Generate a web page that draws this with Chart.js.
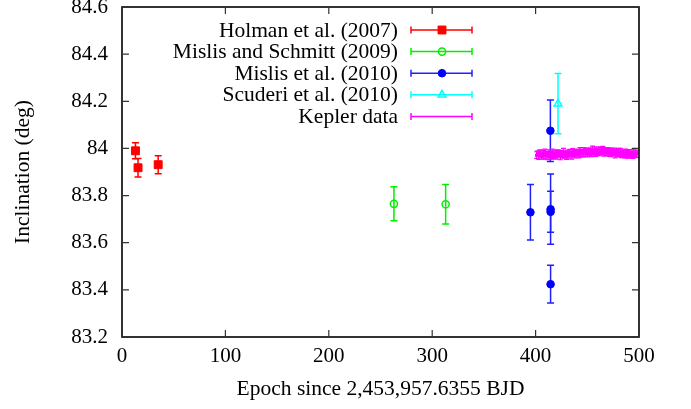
<!DOCTYPE html>
<html>
<head>
<meta charset="utf-8">
<script src="https://cdn.jsdelivr.net/npm/chart.js@4.4.0/dist/chart.umd.min.js"></script>
<style>
  html, body { margin: 0; padding: 0; background: #fff; }
  #wrap { width: 691px; height: 409px; }
</style>
</head>
<body>
<div id="wrap"><canvas id="inclChart"></canvas></div>
<script>
// series names (legend order)
const seriesNames = ['Holman et al. (2007)', 'Mislis and Schmitt (2009)', 'Mislis et al. (2010)', 'Scuderi et al. (2010)', 'Kepler data'];

// Holman et al. (2007)
const holmanEpoch = [13, 15.5, 35];
const holmanIncl = [83.99, 83.918, 83.931];
const holmanErr = [0.034, 0.039, 0.038];

// Mislis and Schmitt (2009)
const mislisSEpoch = [263, 313];
const mislisSIncl = [83.765, 83.763];
const mislisSErr = [0.072, 0.084];

// Mislis et al. (2010)
const mislisEpoch = [395, 414.5, 414.5, 414.5, 414.3];
const mislisIncl = [83.729, 83.742, 83.731, 83.424, 84.075];
const mislisErr = [0.118, 0.149, 0.087, 0.08, 0.13];

// Scuderi et al. (2010)
const scuderiEpoch = [421.7];
const scuderiIncl = [84.19];
const scuderiErr = [0.128];

// Kepler data
const keplerEpoch = [401, 402, 403, 404, 405, 406, 407, 408, 409, 410,
  411, 412, 413, 414, 415, 416, 417, 418, 419, 420,
  421, 422, 423, 424, 425, 426, 427, 428, 429, 430,
  431, 432, 433, 434, 435, 436, 437, 438, 439, 440,
  441, 442, 443, 444, 445, 446, 447, 448, 449, 450,
  451, 452, 453, 454, 455, 456, 457, 458, 459, 460,
  461, 462, 463, 464, 465, 466, 467, 468, 469, 470,
  471, 472, 473, 474, 475, 476, 477, 478, 479, 480,
  481, 482, 483, 484, 485, 486, 487, 488, 489, 490,
  491, 492, 493, 494, 495, 496, 497, 498];
const keplerIncl = [83.972, 83.978, 83.969, 83.981, 83.975, 83.966, 83.979, 83.973, 83.984, 83.970,
  83.976, 83.968, 83.980, 83.974, 83.971, 83.983, 83.967, 83.977, 83.972, 83.979,
  83.970, 83.981, 83.975, 83.968, 83.978, 83.973, 83.985, 83.971, 83.976, 83.969,
  83.980, 83.974, 83.982, 83.977, 83.971, 83.986, 83.979, 83.975, 83.983, 83.978,
  83.984, 83.976, 83.989, 83.980, 83.985, 83.978, 83.991, 83.982, 83.987, 83.979,
  83.986, 83.983, 83.990, 83.981, 83.992, 83.984, 83.992, 83.980, 83.987, 83.985,
  83.993, 83.982, 83.989, 83.986, 83.995, 83.983, 83.990, 83.987, 83.984, 83.991,
  83.982, 83.988, 83.979, 83.985, 83.981, 83.987, 83.976, 83.983, 83.980, 83.986,
  83.977, 83.984, 83.975, 83.981, 83.978, 83.972, 83.983, 83.976, 83.980, 83.974,
  83.981, 83.975, 83.979, 83.971, 83.982, 83.976, 83.973, 83.978];
const keplerErr = [0.014, 0.012, 0.016, 0.013, 0.015, 0.012, 0.014, 0.017, 0.013, 0.015,
  0.012, 0.016, 0.014, 0.013, 0.015, 0.014, 0.012, 0.016, 0.013, 0.014,
  0.015, 0.013, 0.012, 0.016, 0.014, 0.013, 0.015, 0.012, 0.014, 0.016,
  0.013, 0.015, 0.014, 0.012, 0.016, 0.013, 0.014, 0.015, 0.012, 0.014,
  0.013, 0.016, 0.014, 0.015, 0.012, 0.014, 0.013, 0.016, 0.014, 0.015,
  0.013, 0.014, 0.012, 0.016, 0.018, 0.013, 0.015, 0.014, 0.012, 0.016,
  0.014, 0.013, 0.015, 0.012, 0.014, 0.016, 0.013, 0.015, 0.014, 0.012,
  0.016, 0.013, 0.014, 0.015, 0.012, 0.014, 0.016, 0.013, 0.015, 0.014,
  0.012, 0.016, 0.014, 0.013, 0.015, 0.012, 0.014, 0.016, 0.013, 0.015,
  0.014, 0.012, 0.016, 0.013, 0.015, 0.014, 0.012, 0.015];

// axis ticks
const xTicks = [0, 100, 200, 300, 400, 500];
const yTicks = [83.2, 83.4, 83.6, 83.8, 84, 84.2, 84.4, 84.6];
const yTickLabels = ['83.2', '83.4', '83.6', '83.8', '84', '84.2', '84.4', '84.6'];

const FONT = 'Liberation Serif';

function pts(xs, ys, errs) {
    return xs.map((x, i) => ({ x: x, y: ys[i], err: errs[i] }));
}

// error bars drawn before each dataset so markers sit on top
const errorBars = {
    id: 'errorBars',
    beforeDatasetDraw(chart, args) {
        const ds = chart.data.datasets[args.index];
        const yScale = chart.scales.y;
        const ctx = chart.ctx;
        const cap = ds.capWidth || 3.5;
        ctx.save();
        ctx.strokeStyle = ds.barColor;
        ctx.lineWidth = ds.barWidth || 1.5;
        args.meta.data.forEach((el, i) => {
            const d = ds.data[i];
            const yTop = yScale.getPixelForValue(d.y + d.err);
            const yBot = yScale.getPixelForValue(d.y - d.err);
            ctx.beginPath();
            ctx.moveTo(el.x, yTop);
            ctx.lineTo(el.x, yBot);
            ctx.moveTo(el.x - cap, yTop);
            ctx.lineTo(el.x + cap, yTop);
            ctx.moveTo(el.x - cap, yBot);
            ctx.lineTo(el.x + cap, yBot);
            ctx.stroke();
        });
        ctx.restore();
    }
};

// gnuplot-like frame with inward ticks on all four sides
const frame = {
    id: 'frame',
    afterDatasetsDraw(chart) {
        const { ctx, chartArea: a, scales } = chart;
        ctx.save();
        ctx.strokeStyle = '#000';
        ctx.lineWidth = 1.6;
        ctx.strokeRect(a.left, a.top, a.right - a.left, a.bottom - a.top);
        ctx.strokeStyle = '#333';
        ctx.lineWidth = 1.2;
        ctx.beginPath();
        xTicks.forEach(v => {
            const px = scales.x.getPixelForValue(v);
            ctx.moveTo(px, a.bottom); ctx.lineTo(px, a.bottom - 7);
            ctx.moveTo(px, a.top); ctx.lineTo(px, a.top + 7);
        });
        yTicks.forEach(v => {
            const py = scales.y.getPixelForValue(v);
            ctx.moveTo(a.left, py); ctx.lineTo(a.left + 7, py);
            ctx.moveTo(a.right, py); ctx.lineTo(a.right - 7, py);
        });
        ctx.stroke();
        ctx.restore();
    }
};

// key in the upper part of the plot, text right-aligned, sample line with caps
const keyBox = {
    id: 'keyBox',
    afterDraw(chart) {
        const ctx = chart.ctx;
        const textRight = 398, lineL = 411, lineR = 472, mid = 442;
        ctx.save();
        ctx.font = '21.5px "' + FONT + '"';
        ctx.textAlign = 'right';
        ctx.textBaseline = 'middle';
        chart.data.datasets.forEach((ds, i) => {
            const y = 30 + i * 21.6;
            ctx.fillStyle = '#000';
            ctx.fillText(seriesNames[i], textRight, y + 1);
            ctx.strokeStyle = ds.barColor;
            ctx.lineWidth = 1.5;
            ctx.beginPath();
            ctx.moveTo(lineL, y); ctx.lineTo(lineR, y);
            ctx.moveTo(lineL, y - 3.5); ctx.lineTo(lineL, y + 3.5);
            ctx.moveTo(lineR, y - 3.5); ctx.lineTo(lineR, y + 3.5);
            ctx.stroke();
            if (ds.pointRadius > 1.5) {
                ctx.fillStyle = ds.backgroundColor;
                ctx.strokeStyle = ds.borderColor;
                ctx.lineWidth = ds.borderWidth;
                Chart.helpers.drawPoint(ctx, { pointStyle: ds.pointStyle, radius: ds.pointRadius, borderWidth: ds.borderWidth, rotation: 0 }, mid, y);
            }
        });
        ctx.restore();
    }
};

function drawChart() {
    const ctx = document.getElementById('inclChart').getContext('2d');
    new Chart(ctx, {
        type: 'scatter',
        data: {
            datasets: [{
                label: seriesNames[0],
                data: pts(holmanEpoch, holmanIncl, holmanErr),
                pointStyle: 'rect',
                pointRadius: 5.6,
                backgroundColor: '#ff0000',
                borderColor: '#ff0000',
                borderWidth: 1,
                barColor: '#ff0000',
                capWidth: 3.5,
                order: 5
            }, {
                label: seriesNames[1],
                data: pts(mislisSEpoch, mislisSIncl, mislisSErr),
                pointStyle: 'circle',
                pointRadius: 3.6,
                backgroundColor: 'rgba(0,0,0,0)',
                borderColor: '#00ee00',
                borderWidth: 1.5,
                barColor: '#00ee00',
                capWidth: 3.5,
                order: 4
            }, {
                label: seriesNames[2],
                data: pts(mislisEpoch, mislisIncl, mislisErr),
                pointStyle: 'circle',
                pointRadius: 3.8,
                backgroundColor: '#0000ff',
                borderColor: '#0000ff',
                borderWidth: 1,
                barColor: '#2020ff',
                capWidth: 3.5,
                order: 3
            }, {
                label: seriesNames[3],
                data: pts(scuderiEpoch, scuderiIncl, scuderiErr),
                pointStyle: 'triangle',
                pointRadius: 4.5,
                backgroundColor: 'rgba(0,0,0,0)',
                borderColor: '#00ffff',
                borderWidth: 1.5,
                barColor: '#00ffff',
                capWidth: 3.5,
                order: 2
            }, {
                label: seriesNames[4],
                data: pts(keplerEpoch, keplerIncl, keplerErr),
                pointStyle: 'circle',
                pointRadius: 1.3,
                backgroundColor: '#ff00ff',
                borderColor: '#ff00ff',
                borderWidth: 1,
                barColor: '#ff00ff',
                barWidth: 1.2,
                capWidth: 2.5,
                order: 1
            }]
        },
        options: {
            responsive: true,
            maintainAspectRatio: false,
            animation: false,
            layout: { padding: { top: 7, right: 52, left: 0, bottom: 0 } },
            scales: {
                x: {
                    type: 'linear',
                    min: 0,
                    max: 500,
                    afterBuildTicks: (scale) => { scale.ticks = xTicks.map(v => ({ value: v })); },
                    afterFit: (scale) => { scale.height = 72; scale.paddingLeft = 0; scale.paddingRight = 0; },
                    grid: { display: false, drawTicks: false },
                    border: { display: false },
                    ticks: {
                        padding: 7,
                        color: '#000',
                        maxRotation: 0,
                        font: { family: FONT, size: 21 }
                    },
                    title: {
                        display: true,
                        text: 'Epoch since 2,453,957.6355 BJD',
                        color: '#000',
                        font: { family: FONT, size: 21.5 },
                        padding: { top: 0, bottom: 7 }
                    }
                },
                y: {
                    type: 'linear',
                    min: 83.2,
                    max: 84.6,
                    afterBuildTicks: (scale) => { scale.ticks = yTicks.map(v => ({ value: v })); },
                    afterFit: (scale) => { scale.width = 122; scale.paddingTop = 0; scale.paddingBottom = 0; },
                    grid: { display: false, drawTicks: false },
                    border: { display: false },
                    ticks: {
                        padding: 14,
                        color: '#000',
                        font: { family: FONT, size: 21 },
                        callback: (v) => {
                            const i = yTicks.findIndex(t => Math.abs(t - v) < 1e-6);
                            return i >= 0 ? yTickLabels[i] : '';
                        }
                    },
                    title: {
                        display: true,
                        text: 'Inclination (deg)',
                        color: '#000',
                        font: { family: FONT, size: 21.5 },
                        padding: { top: 10, bottom: 0 }
                    }
                }
            },
            plugins: {
                legend: { display: false },
                tooltip: { enabled: false }
            }
        },
        plugins: [errorBars, frame, keyBox]
    });
}

window.onload = drawChart;
</script>
</body>
</html>
